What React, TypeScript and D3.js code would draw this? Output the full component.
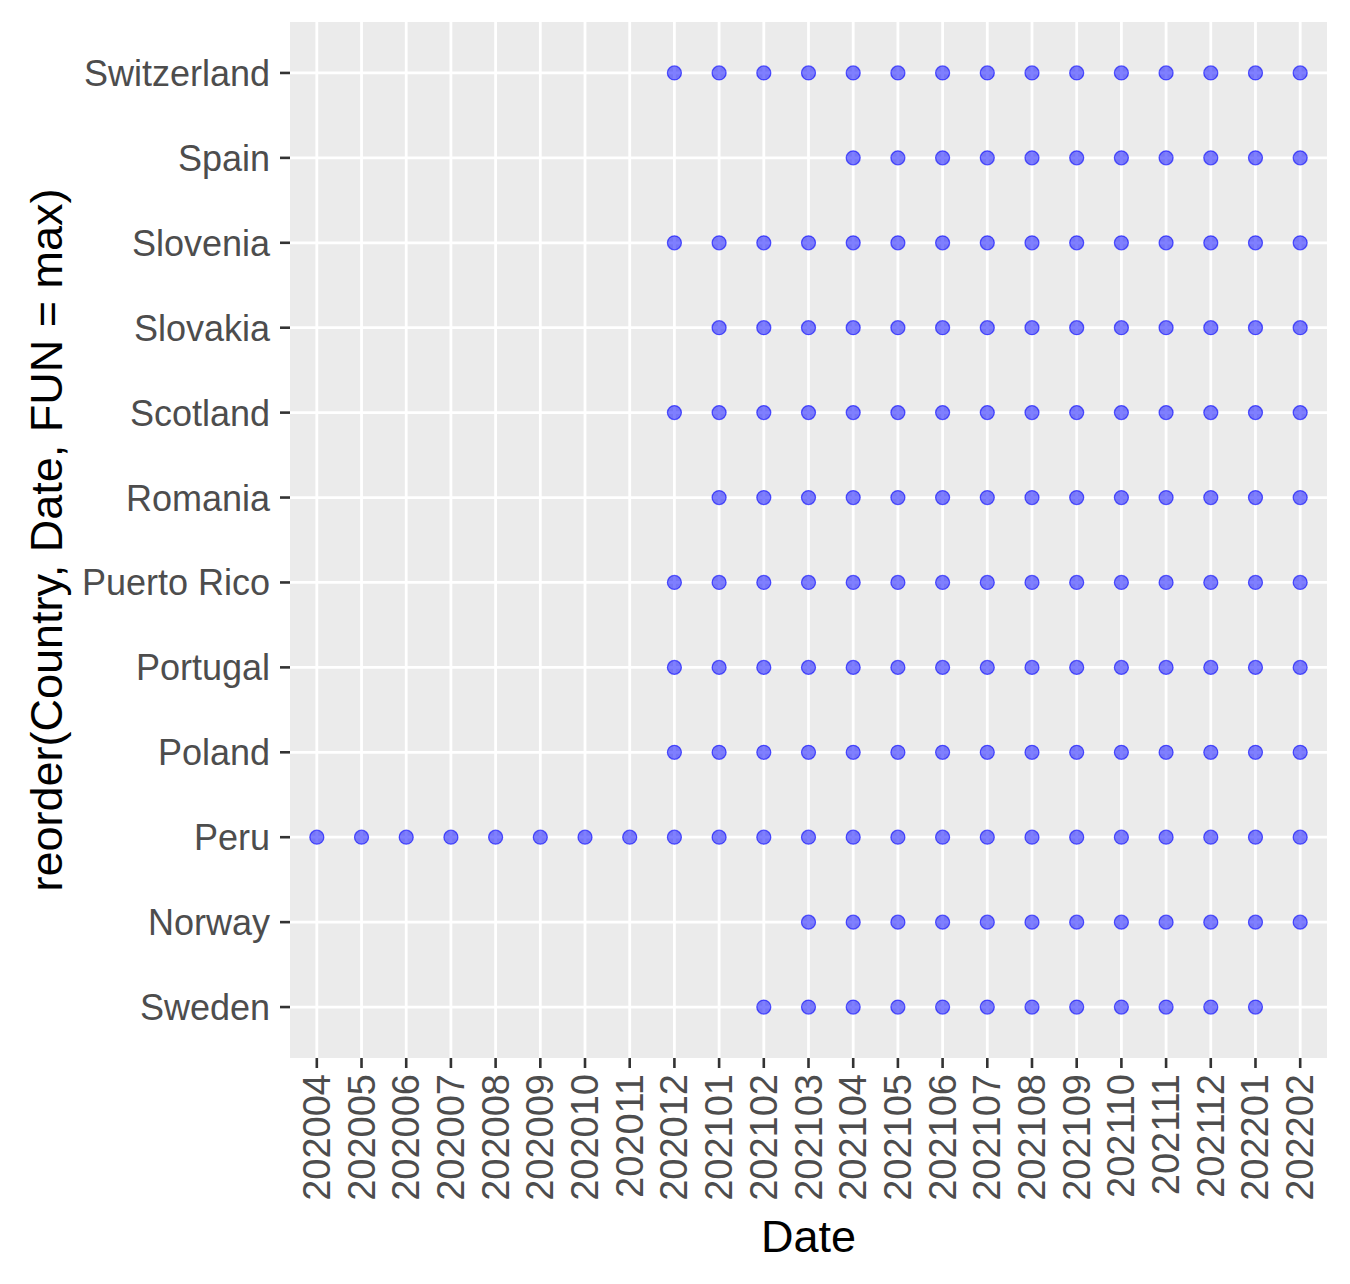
import * as d3 from "d3";

const dates = ["202004","202005","202006","202007","202008","202009","202010","202011","202012","202101","202102","202103","202104","202105","202106","202107","202108","202109","202110","202111","202112","202201","202202"];
// top to bottom
const countries = ["Switzerland","Spain","Slovenia","Slovakia","Scotland","Romania","Puerto Rico","Portugal","Poland","Peru","Norway","Sweden"];
const starts = ["202012","202104","202012","202101","202012","202101","202012","202012","202012","202004","202103","202102"];
const ends = ["202202","202202","202202","202202","202202","202202","202202","202202","202202","202202","202202","202201"];

const W = 1350, H = 1284;
const left = 290, right = 1327, top = 22, bottom = 1058;

export default function App() {
  const x = d3.scalePoint<string>().domain(dates).range([left, right]).padding(0.6);
  const y = d3.scalePoint<string>().domain(countries).range([top, bottom]).padding(0.6);
  const points: { c: string; d: string }[] = [];
  countries.forEach((c, i) => {
    const s = dates.indexOf(starts[i]), e = dates.indexOf(ends[i]);
    dates.slice(s, e + 1).forEach((d) => points.push({ c, d }));
  });
  const font = "Liberation Sans, Arial, sans-serif";
  return (
    <svg width={W} height={H} style={{ position: "absolute", left: 0, top: 0, background: "white" }} fontFamily={font}>
      <rect x={left} y={top} width={right - left} height={bottom - top} fill="#EBEBEB" />
      {dates.map((d) => (
        <line key={d} x1={x(d)} x2={x(d)} y1={top} y2={bottom} stroke="white" strokeWidth={2.8} />
      ))}
      {countries.map((c) => (
        <line key={c} x1={left} x2={right} y1={y(c)} y2={y(c)} stroke="white" strokeWidth={2.8} />
      ))}
      {points.map((p, i) => (
        <circle key={i} cx={x(p.d)} cy={y(p.c)} r={7} fill="rgba(0,0,255,0.5)" stroke="rgba(0,0,255,0.6)" strokeWidth={1.3} />
      ))}
      {countries.map((c) => (
        <g key={c}>
          <line x1={left - 10} x2={left} y1={y(c)} y2={y(c)} stroke="#333" strokeWidth={2.6} />
          <text x={left - 20} y={y(c)! + 13} textAnchor="end" fontSize={36} fill="#4D4D4D">{c}</text>
        </g>
      ))}
      {dates.map((d) => (
        <g key={d}>
          <line x1={x(d)} x2={x(d)} y1={bottom} y2={bottom + 10} stroke="#333" strokeWidth={2.6} />
          <text transform={`translate(${x(d)! + 13},${bottom + 16}) rotate(-90)`} textAnchor="end" fontSize={38} fill="#4D4D4D">{d}</text>
        </g>
      ))}
      <text x={(left + right) / 2} y={1252} textAnchor="middle" fontSize={45} fill="black">Date</text>
      <text transform={`translate(62,${(top + bottom) / 2}) rotate(-90)`} textAnchor="middle" fontSize={45} fill="black">reorder(Country, Date, FUN = max)</text>
    </svg>
  );
}
